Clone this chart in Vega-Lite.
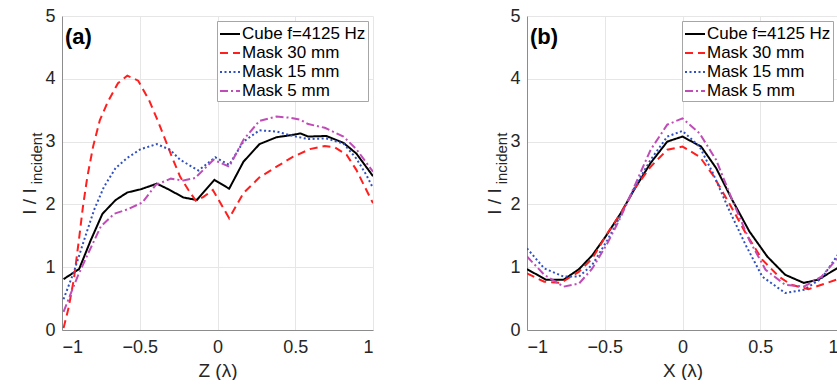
{
  "$schema": "https://vega.github.io/schema/vega-lite/v6.json",
  "background": "white",
  "padding": {"left": 20, "top": 7, "right": 0, "bottom": 0},
  "config": {
    "font": "Liberation Sans",
    "view": {"stroke": null},
    "axis": {
      "gridColor": "#e6e6e6",
      "domainColor": "#8c8c8c",
      "tickSize": 0,
      "labelFont": "Liberation Sans",
      "titleFont": "Liberation Sans",
      "labelFontSize": 18,
      "labelColor": "#262626",
      "titleFontSize": 19,
      "titleFontWeight": "normal",
      "titleColor": "#262626"
    },
    "legend": {
      "labelFont": "Liberation Sans"
    }
  },
  "datasets": {
    "a": [
      {"s": "Cube f=4125 Hz", "x": -0.99, "y": 0.81},
      {"s": "Cube f=4125 Hz", "x": -0.89, "y": 0.97},
      {"s": "Cube f=4125 Hz", "x": -0.815, "y": 1.43},
      {"s": "Cube f=4125 Hz", "x": -0.74, "y": 1.85},
      {"s": "Cube f=4125 Hz", "x": -0.655, "y": 2.07},
      {"s": "Cube f=4125 Hz", "x": -0.58, "y": 2.19},
      {"s": "Cube f=4125 Hz", "x": -0.494, "y": 2.24},
      {"s": "Cube f=4125 Hz", "x": -0.39, "y": 2.33},
      {"s": "Cube f=4125 Hz", "x": -0.315, "y": 2.24},
      {"s": "Cube f=4125 Hz", "x": -0.219, "y": 2.11},
      {"s": "Cube f=4125 Hz", "x": -0.133, "y": 2.07},
      {"s": "Cube f=4125 Hz", "x": -0.02, "y": 2.39},
      {"s": "Cube f=4125 Hz", "x": 0.075, "y": 2.25},
      {"s": "Cube f=4125 Hz", "x": 0.167, "y": 2.68},
      {"s": "Cube f=4125 Hz", "x": 0.27, "y": 2.96},
      {"s": "Cube f=4125 Hz", "x": 0.38, "y": 3.07},
      {"s": "Cube f=4125 Hz", "x": 0.466, "y": 3.10},
      {"s": "Cube f=4125 Hz", "x": 0.534, "y": 3.13},
      {"s": "Cube f=4125 Hz", "x": 0.583, "y": 3.08},
      {"s": "Cube f=4125 Hz", "x": 0.70, "y": 3.09},
      {"s": "Cube f=4125 Hz", "x": 0.81, "y": 2.98},
      {"s": "Cube f=4125 Hz", "x": 0.893, "y": 2.81},
      {"s": "Cube f=4125 Hz", "x": 1.0, "y": 2.45},
      {"s": "Mask 30 mm", "x": -0.99, "y": 0.03},
      {"s": "Mask 30 mm", "x": -0.957, "y": 0.36},
      {"s": "Mask 30 mm", "x": -0.923, "y": 0.82},
      {"s": "Mask 30 mm", "x": -0.89, "y": 1.46},
      {"s": "Mask 30 mm", "x": -0.865, "y": 1.97},
      {"s": "Mask 30 mm", "x": -0.837, "y": 2.44},
      {"s": "Mask 30 mm", "x": -0.80, "y": 2.92},
      {"s": "Mask 30 mm", "x": -0.757, "y": 3.34},
      {"s": "Mask 30 mm", "x": -0.704, "y": 3.64},
      {"s": "Mask 30 mm", "x": -0.64, "y": 3.93},
      {"s": "Mask 30 mm", "x": -0.58, "y": 4.05},
      {"s": "Mask 30 mm", "x": -0.51, "y": 3.97},
      {"s": "Mask 30 mm", "x": -0.44, "y": 3.66},
      {"s": "Mask 30 mm", "x": -0.382, "y": 3.32},
      {"s": "Mask 30 mm", "x": -0.32, "y": 2.93},
      {"s": "Mask 30 mm", "x": -0.294, "y": 2.76},
      {"s": "Mask 30 mm", "x": -0.24, "y": 2.44},
      {"s": "Mask 30 mm", "x": -0.187, "y": 2.23},
      {"s": "Mask 30 mm", "x": -0.14, "y": 2.06},
      {"s": "Mask 30 mm", "x": -0.09, "y": 2.12},
      {"s": "Mask 30 mm", "x": -0.03, "y": 2.23},
      {"s": "Mask 30 mm", "x": 0.075, "y": 1.78},
      {"s": "Mask 30 mm", "x": 0.167, "y": 2.18},
      {"s": "Mask 30 mm", "x": 0.27, "y": 2.43},
      {"s": "Mask 30 mm", "x": 0.38, "y": 2.6},
      {"s": "Mask 30 mm", "x": 0.487, "y": 2.76},
      {"s": "Mask 30 mm", "x": 0.594, "y": 2.88},
      {"s": "Mask 30 mm", "x": 0.69, "y": 2.93},
      {"s": "Mask 30 mm", "x": 0.754, "y": 2.91},
      {"s": "Mask 30 mm", "x": 0.83, "y": 2.79},
      {"s": "Mask 30 mm", "x": 0.893, "y": 2.55},
      {"s": "Mask 30 mm", "x": 0.947, "y": 2.28},
      {"s": "Mask 30 mm", "x": 1.0, "y": 2.02},
      {"s": "Mask 15 mm", "x": -0.99, "y": 0.49},
      {"s": "Mask 15 mm", "x": -0.923, "y": 0.93},
      {"s": "Mask 15 mm", "x": -0.858, "y": 1.43},
      {"s": "Mask 15 mm", "x": -0.794, "y": 1.91},
      {"s": "Mask 15 mm", "x": -0.73, "y": 2.28},
      {"s": "Mask 15 mm", "x": -0.655, "y": 2.58},
      {"s": "Mask 15 mm", "x": -0.58, "y": 2.74},
      {"s": "Mask 15 mm", "x": -0.494, "y": 2.88},
      {"s": "Mask 15 mm", "x": -0.39, "y": 2.96},
      {"s": "Mask 15 mm", "x": -0.305, "y": 2.87},
      {"s": "Mask 15 mm", "x": -0.24, "y": 2.71},
      {"s": "Mask 15 mm", "x": -0.122, "y": 2.54},
      {"s": "Mask 15 mm", "x": -0.015, "y": 2.75},
      {"s": "Mask 15 mm", "x": 0.075, "y": 2.63},
      {"s": "Mask 15 mm", "x": 0.167, "y": 3.0},
      {"s": "Mask 15 mm", "x": 0.27, "y": 3.18},
      {"s": "Mask 15 mm", "x": 0.38, "y": 3.16},
      {"s": "Mask 15 mm", "x": 0.487, "y": 3.09},
      {"s": "Mask 15 mm", "x": 0.583, "y": 3.04},
      {"s": "Mask 15 mm", "x": 0.70, "y": 3.05},
      {"s": "Mask 15 mm", "x": 0.81, "y": 2.97},
      {"s": "Mask 15 mm", "x": 0.893, "y": 2.73},
      {"s": "Mask 15 mm", "x": 0.957, "y": 2.47},
      {"s": "Mask 15 mm", "x": 1.0, "y": 2.26},
      {"s": "Mask 5 mm", "x": -0.99, "y": 0.29},
      {"s": "Mask 5 mm", "x": -0.9, "y": 0.85},
      {"s": "Mask 5 mm", "x": -0.826, "y": 1.25},
      {"s": "Mask 5 mm", "x": -0.75, "y": 1.65},
      {"s": "Mask 5 mm", "x": -0.665, "y": 1.85},
      {"s": "Mask 5 mm", "x": -0.58, "y": 1.92},
      {"s": "Mask 5 mm", "x": -0.483, "y": 2.03},
      {"s": "Mask 5 mm", "x": -0.397, "y": 2.31},
      {"s": "Mask 5 mm", "x": -0.30, "y": 2.41},
      {"s": "Mask 5 mm", "x": -0.219, "y": 2.38},
      {"s": "Mask 5 mm", "x": -0.144, "y": 2.42},
      {"s": "Mask 5 mm", "x": -0.026, "y": 2.71},
      {"s": "Mask 5 mm", "x": 0.075, "y": 2.60},
      {"s": "Mask 5 mm", "x": 0.167, "y": 3.03},
      {"s": "Mask 5 mm", "x": 0.27, "y": 3.33},
      {"s": "Mask 5 mm", "x": 0.38, "y": 3.40},
      {"s": "Mask 5 mm", "x": 0.466, "y": 3.38},
      {"s": "Mask 5 mm", "x": 0.53, "y": 3.35},
      {"s": "Mask 5 mm", "x": 0.583, "y": 3.28},
      {"s": "Mask 5 mm", "x": 0.69, "y": 3.22},
      {"s": "Mask 5 mm", "x": 0.81, "y": 3.08},
      {"s": "Mask 5 mm", "x": 0.893, "y": 2.88},
      {"s": "Mask 5 mm", "x": 1.0, "y": 2.52}
    ],
    "b": [
      {"s": "Cube f=4125 Hz", "x": -1.0, "y": 0.97},
      {"s": "Cube f=4125 Hz", "x": -0.878, "y": 0.80},
      {"s": "Cube f=4125 Hz", "x": -0.765, "y": 0.80},
      {"s": "Cube f=4125 Hz", "x": -0.665, "y": 0.97},
      {"s": "Cube f=4125 Hz", "x": -0.58, "y": 1.19},
      {"s": "Cube f=4125 Hz", "x": -0.494, "y": 1.49},
      {"s": "Cube f=4125 Hz", "x": -0.397, "y": 1.86},
      {"s": "Cube f=4125 Hz", "x": -0.312, "y": 2.23},
      {"s": "Cube f=4125 Hz", "x": -0.205, "y": 2.66},
      {"s": "Cube f=4125 Hz", "x": -0.098, "y": 3.0},
      {"s": "Cube f=4125 Hz", "x": 0.0, "y": 3.08},
      {"s": "Cube f=4125 Hz", "x": 0.12, "y": 2.92},
      {"s": "Cube f=4125 Hz", "x": 0.216, "y": 2.58},
      {"s": "Cube f=4125 Hz", "x": 0.32, "y": 2.07},
      {"s": "Cube f=4125 Hz", "x": 0.43, "y": 1.57},
      {"s": "Cube f=4125 Hz", "x": 0.545, "y": 1.17},
      {"s": "Cube f=4125 Hz", "x": 0.66, "y": 0.88},
      {"s": "Cube f=4125 Hz", "x": 0.78, "y": 0.75},
      {"s": "Cube f=4125 Hz", "x": 0.87, "y": 0.80},
      {"s": "Cube f=4125 Hz", "x": 0.98, "y": 0.96},
      {"s": "Cube f=4125 Hz", "x": 1.0, "y": 0.99},
      {"s": "Mask 30 mm", "x": -1.0, "y": 0.90},
      {"s": "Mask 30 mm", "x": -0.889, "y": 0.77},
      {"s": "Mask 30 mm", "x": -0.782, "y": 0.75},
      {"s": "Mask 30 mm", "x": -0.665, "y": 0.93},
      {"s": "Mask 30 mm", "x": -0.58, "y": 1.14},
      {"s": "Mask 30 mm", "x": -0.483, "y": 1.54},
      {"s": "Mask 30 mm", "x": -0.397, "y": 1.86},
      {"s": "Mask 30 mm", "x": -0.30, "y": 2.28},
      {"s": "Mask 30 mm", "x": -0.205, "y": 2.60},
      {"s": "Mask 30 mm", "x": -0.098, "y": 2.87},
      {"s": "Mask 30 mm", "x": 0.0, "y": 2.92},
      {"s": "Mask 30 mm", "x": 0.11, "y": 2.76},
      {"s": "Mask 30 mm", "x": 0.195, "y": 2.47},
      {"s": "Mask 30 mm", "x": 0.30, "y": 2.02},
      {"s": "Mask 30 mm", "x": 0.407, "y": 1.54},
      {"s": "Mask 30 mm", "x": 0.513, "y": 1.12},
      {"s": "Mask 30 mm", "x": 0.62, "y": 0.85},
      {"s": "Mask 30 mm", "x": 0.70, "y": 0.72},
      {"s": "Mask 30 mm", "x": 0.81, "y": 0.65},
      {"s": "Mask 30 mm", "x": 0.894, "y": 0.72},
      {"s": "Mask 30 mm", "x": 1.0, "y": 0.81},
      {"s": "Mask 15 mm", "x": -1.0, "y": 1.30},
      {"s": "Mask 15 mm", "x": -0.889, "y": 0.98},
      {"s": "Mask 15 mm", "x": -0.765, "y": 0.85},
      {"s": "Mask 15 mm", "x": -0.665, "y": 0.85},
      {"s": "Mask 15 mm", "x": -0.58, "y": 1.04},
      {"s": "Mask 15 mm", "x": -0.483, "y": 1.43},
      {"s": "Mask 15 mm", "x": -0.397, "y": 1.83},
      {"s": "Mask 15 mm", "x": -0.30, "y": 2.31},
      {"s": "Mask 15 mm", "x": -0.205, "y": 2.71},
      {"s": "Mask 15 mm", "x": -0.098, "y": 3.08},
      {"s": "Mask 15 mm", "x": 0.0, "y": 3.17},
      {"s": "Mask 15 mm", "x": 0.11, "y": 2.92},
      {"s": "Mask 15 mm", "x": 0.195, "y": 2.50},
      {"s": "Mask 15 mm", "x": 0.30, "y": 1.91},
      {"s": "Mask 15 mm", "x": 0.407, "y": 1.35},
      {"s": "Mask 15 mm", "x": 0.513, "y": 0.85},
      {"s": "Mask 15 mm", "x": 0.66, "y": 0.59},
      {"s": "Mask 15 mm", "x": 0.78, "y": 0.64},
      {"s": "Mask 15 mm", "x": 0.894, "y": 0.82},
      {"s": "Mask 15 mm", "x": 1.0, "y": 1.2},
      {"s": "Mask 5 mm", "x": -1.0, "y": 1.17},
      {"s": "Mask 5 mm", "x": -0.889, "y": 0.88},
      {"s": "Mask 5 mm", "x": -0.765, "y": 0.69},
      {"s": "Mask 5 mm", "x": -0.665, "y": 0.74},
      {"s": "Mask 5 mm", "x": -0.58, "y": 0.98},
      {"s": "Mask 5 mm", "x": -0.483, "y": 1.38},
      {"s": "Mask 5 mm", "x": -0.397, "y": 1.80},
      {"s": "Mask 5 mm", "x": -0.30, "y": 2.34},
      {"s": "Mask 5 mm", "x": -0.205, "y": 2.87},
      {"s": "Mask 5 mm", "x": -0.098, "y": 3.27},
      {"s": "Mask 5 mm", "x": 0.0, "y": 3.37},
      {"s": "Mask 5 mm", "x": 0.11, "y": 3.13},
      {"s": "Mask 5 mm", "x": 0.216, "y": 2.71},
      {"s": "Mask 5 mm", "x": 0.32, "y": 2.07},
      {"s": "Mask 5 mm", "x": 0.43, "y": 1.43},
      {"s": "Mask 5 mm", "x": 0.534, "y": 0.96},
      {"s": "Mask 5 mm", "x": 0.66, "y": 0.72},
      {"s": "Mask 5 mm", "x": 0.78, "y": 0.69},
      {"s": "Mask 5 mm", "x": 0.894, "y": 0.85},
      {"s": "Mask 5 mm", "x": 1.0, "y": 1.15}
    ]
  },
  "spacing": 111,
  "resolve": {"legend": {"color": "independent", "strokeDash": "independent"}},
  "hconcat": [
    {
      "width": 311,
      "height": 314,
      "resolve": {"axis": {"y": "independent"}},
      "layer": [
        {
          "data": {"name": "a"},
          "mark": {"type": "line", "strokeWidth": 2, "clip": true},
          "encoding": {
            "x": {"field": "x", "type": "quantitative", "scale": {"domain": [-1, 1], "nice": false},
              "axis": {"title": "Z (λ)", "values": [-1, -0.5, 0, 0.5, 1], "format": ".1~f", "labelPadding": 8, "titlePadding": 5}},
            "y": {"field": "y", "type": "quantitative", "scale": {"domain": [0, 5], "nice": false},
              "axis": {"orient": "left", "title": "I / I", "values": [0, 1, 2, 3, 4, 5], "format": "d", "labelPadding": 7, "titleX": -33, "titleY": 185, "titleBaseline": "middle", "titleAlign": "center", "titleAngle": -90}},
            "color": {"field": "s", "type": "nominal",
              "scale": {"domain": ["Cube f=4125 Hz", "Mask 30 mm", "Mask 15 mm", "Mask 5 mm"], "range": ["#000000", "#ff1f1f", "#3050c0", "#c04cb8"]},
              "legend": {"title": null, "orient": "top-right", "offset": 5, "symbolType": "stroke", "symbolSize": 400, "symbolStrokeWidth": 2, "labelFontSize": 17, "labelColor": "#000000", "labelOffset": 1, "padding": 2, "rowPadding": 0, "strokeColor": "#a6a6a6", "fillColor": "#ffffff", "cornerRadius": 0}},
            "strokeDash": {"field": "s", "type": "nominal",
              "scale": {"domain": ["Cube f=4125 Hz", "Mask 30 mm", "Mask 15 mm", "Mask 5 mm"], "range": [[1, 0], [8, 5], [2, 2.5], [8, 3, 2, 3]]},
              "legend": {"title": null, "orient": "top-right", "offset": 5, "symbolType": "stroke", "symbolSize": 400, "symbolStrokeWidth": 2, "labelFontSize": 17, "labelColor": "#000000", "labelOffset": 1, "padding": 2, "rowPadding": 0, "strokeColor": "#a6a6a6", "fillColor": "#ffffff", "cornerRadius": 0}}
          }
        },
        {
          "data": {"values": [{}]},
          "mark": {"type": "text", "text": "(a)", "fontWeight": "bold", "fontSize": 22, "align": "left", "baseline": "middle", "dx": 3, "color": "#000000"},
          "encoding": {
            "x": {"datum": -1, "type": "quantitative"},
            "y": {"datum": 4.67, "type": "quantitative",
              "axis": {"orient": "left", "title": "incident", "titleFontSize": 15, "labels": false, "ticks": false, "domain": false, "grid": false, "titleX": -26, "titleY": 142, "titleBaseline": "middle", "titleAlign": "center", "titleAngle": -90}}
          }
        }
      ]
    },
    {
      "width": 311,
      "height": 314,
      "resolve": {"axis": {"y": "independent"}},
      "layer": [
        {
          "data": {"name": "b"},
          "mark": {"type": "line", "strokeWidth": 2, "clip": true},
          "encoding": {
            "x": {"field": "x", "type": "quantitative", "scale": {"domain": [-1, 1], "nice": false},
              "axis": {"title": "X (λ)", "values": [-1, -0.5, 0, 0.5, 1], "format": ".1~f", "labelPadding": 8, "titlePadding": 5}},
            "y": {"field": "y", "type": "quantitative", "scale": {"domain": [0, 5], "nice": false},
              "axis": {"orient": "left", "title": "I / I", "values": [0, 1, 2, 3, 4, 5], "format": "d", "labelPadding": 7, "titleX": -33, "titleY": 185, "titleBaseline": "middle", "titleAlign": "center", "titleAngle": -90}},
            "color": {"field": "s", "type": "nominal",
              "scale": {"domain": ["Cube f=4125 Hz", "Mask 30 mm", "Mask 15 mm", "Mask 5 mm"], "range": ["#000000", "#ff1f1f", "#3050c0", "#c04cb8"]},
              "legend": {"title": null, "orient": "top-right", "offset": 5, "symbolType": "stroke", "symbolSize": 400, "symbolStrokeWidth": 2, "labelFontSize": 17, "labelColor": "#000000", "labelOffset": 1, "padding": 2, "rowPadding": 0, "strokeColor": "#a6a6a6", "fillColor": "#ffffff", "cornerRadius": 0}},
            "strokeDash": {"field": "s", "type": "nominal",
              "scale": {"domain": ["Cube f=4125 Hz", "Mask 30 mm", "Mask 15 mm", "Mask 5 mm"], "range": [[1, 0], [8, 5], [2, 2.5], [8, 3, 2, 3]]},
              "legend": {"title": null, "orient": "top-right", "offset": 5, "symbolType": "stroke", "symbolSize": 400, "symbolStrokeWidth": 2, "labelFontSize": 17, "labelColor": "#000000", "labelOffset": 1, "padding": 2, "rowPadding": 0, "strokeColor": "#a6a6a6", "fillColor": "#ffffff", "cornerRadius": 0}}
          }
        },
        {
          "data": {"values": [{}]},
          "mark": {"type": "text", "text": "(b)", "fontWeight": "bold", "fontSize": 22, "align": "left", "baseline": "middle", "dx": 3, "color": "#000000"},
          "encoding": {
            "x": {"datum": -1, "type": "quantitative"},
            "y": {"datum": 4.67, "type": "quantitative",
              "axis": {"orient": "left", "title": "incident", "titleFontSize": 15, "labels": false, "ticks": false, "domain": false, "grid": false, "titleX": -26, "titleY": 142, "titleBaseline": "middle", "titleAlign": "center", "titleAngle": -90}}
          }
        }
      ]
    }
  ]
}
